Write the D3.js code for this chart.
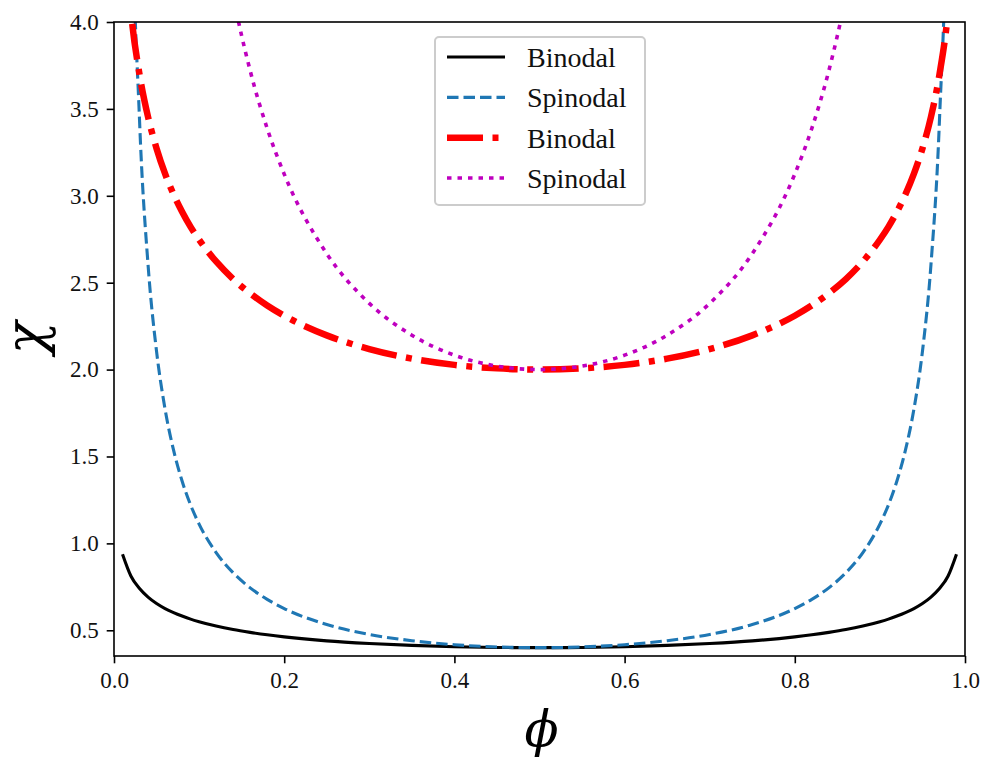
<!DOCTYPE html>
<html>
<head>
<meta charset="utf-8">
<script src="https://cdn.jsdelivr.net/npm/d3@7"></script>
<style>
  body { margin: 0; background: #fff; }
  svg { display: block; }
</style>
</head>
<body>
<div id="chart"></div>
<script>
// volume fraction grid
const phi = [0.01, 0.02, 0.03, 0.04, 0.05, 0.06, 0.07, 0.08, 0.09, 0.10,
    0.12, 0.14, 0.16, 0.18, 0.20, 0.25, 0.30, 0.35, 0.40, 0.45, 0.50,
    0.55, 0.60, 0.65, 0.70, 0.75, 0.80, 0.82, 0.84, 0.86, 0.88, 0.90,
    0.91, 0.92, 0.93, 0.94, 0.95, 0.96, 0.97, 0.98, 0.99];

// black solid
const binodalA = [0.938, 0.811, 0.740, 0.691, 0.654, 0.625, 0.602, 0.582, 0.564, 0.549,
    0.524, 0.504, 0.488, 0.474, 0.462, 0.439, 0.424, 0.413, 0.405, 0.401, 0.400,
    0.401, 0.405, 0.413, 0.424, 0.439, 0.462, 0.474, 0.488, 0.504, 0.524, 0.549,
    0.564, 0.582, 0.602, 0.625, 0.654, 0.691, 0.740, 0.811, 0.938];

// blue dashed
const spinodalA = [10.10, 5.102, 3.436, 2.604, 2.105, 1.773, 1.536, 1.359, 1.221, 1.111,
    0.947, 0.831, 0.744, 0.678, 0.625, 0.533, 0.476, 0.440, 0.417, 0.404, 0.400,
    0.404, 0.417, 0.440, 0.476, 0.533, 0.625, 0.678, 0.744, 0.831, 0.947, 1.111,
    1.221, 1.359, 1.536, 1.773, 2.105, 2.604, 3.436, 5.102, 10.10];

// red dash-dot
const binodalB = [4.689, 4.054, 3.698, 3.454, 3.272, 3.127, 3.008, 2.908, 2.821, 2.747,
    2.622, 2.521, 2.439, 2.369, 2.310, 2.197, 2.118, 2.063, 2.027, 2.007, 2.000,
    2.007, 2.027, 2.063, 2.118, 2.197, 2.310, 2.369, 2.439, 2.521, 2.622, 2.747,
    2.821, 2.908, 3.008, 3.127, 3.272, 3.454, 3.698, 4.054, 4.689];

// magenta dotted
const spinodalB = [50.5, 25.51, 17.18, 13.02, 10.53, 8.865, 7.680, 6.793, 6.105, 5.556,
    4.735, 4.153, 3.720, 3.388, 3.125, 2.667, 2.381, 2.198, 2.083, 2.020, 2.000,
    2.020, 2.083, 2.198, 2.381, 2.667, 3.125, 3.388, 3.720, 4.153, 4.735, 5.556,
    6.105, 6.793, 7.680, 8.865, 10.53, 13.02, 17.18, 25.51, 50.5];

const xTicks = [0.0, 0.2, 0.4, 0.6, 0.8, 1.0];
const yTicks = [0.5, 1.0, 1.5, 2.0, 2.5, 3.0, 3.5, 4.0];
const legendLabels = ['Binodal', 'Spinodal', 'Binodal', 'Spinodal'];

const width = 986, height = 764;
const margin = { top: 22, right: 21, bottom: 108, left: 114 };
const innerWidth = width - margin.left - margin.right;
const innerHeight = height - margin.top - margin.bottom;

const series = [
    { values: binodalA, color: '#000000', width: 3.1, dash: null },
    { values: spinodalA, color: '#1f77b4', width: 3.1, dash: '11.5,5' },
    { values: binodalB, color: '#ff0000', width: 6.5, dash: '36,9.5,6,9.5' },
    { values: spinodalB, color: '#bf00bf', width: 3.6, dash: '4.5,6' }
];

const svg = d3.select('#chart').append('svg')
    .attr('width', width)
    .attr('height', height);

const chart = svg.append('g')
    .attr('transform', `translate(${margin.left}, ${margin.top})`);

const xScale = d3.scaleLinear()
    .domain([0, 1])
    .range([0, innerWidth]);

const yScale = d3.scaleLinear()
    .domain([0.352, 4.0])
    .range([innerHeight, 0]);

chart.append('clipPath')
    .attr('id', 'plot-clip')
    .append('rect')
    .attr('width', innerWidth)
    .attr('height', innerHeight);

const line = d3.line()
    .x(d => xScale(d[0]))
    .y(d => yScale(d[1]))
    .curve(d3.curveMonotoneX);

const lines = chart.append('g').attr('clip-path', 'url(#plot-clip)');

series.forEach(s => {
    lines.append('path')
        .datum(phi.map((p, i) => [p, s.values[i]]))
        .attr('d', line)
        .attr('fill', 'none')
        .attr('stroke', s.color)
        .attr('stroke-width', s.width)
        .attr('stroke-dasharray', s.dash)
        .attr('stroke-linejoin', 'round');
});

// axes
const xAxis = d3.axisBottom(xScale)
    .tickValues(xTicks)
    .tickFormat(d3.format('.1f'))
    .tickSize(7.3)
    .tickPadding(8);

const yAxis = d3.axisLeft(yScale)
    .tickValues(yTicks)
    .tickFormat(d3.format('.1f'))
    .tickSize(7.3)
    .tickPadding(8);

const xG = chart.append('g')
    .attr('transform', `translate(0, ${innerHeight})`)
    .call(xAxis);

const yG = chart.append('g')
    .call(yAxis);

[xG, yG].forEach(g => {
    g.attr('font-size', 23).attr('font-family', '"Liberation Serif", serif');
    g.select('.domain').remove();
    g.selectAll('.tick line').attr('stroke', '#000').attr('stroke-width', 1.6);
    g.selectAll('.tick text').attr('fill', '#111');
});

// frame
chart.append('rect')
    .attr('width', innerWidth)
    .attr('height', innerHeight)
    .attr('fill', 'none')
    .attr('stroke', '#000')
    .attr('stroke-width', 1.6);

// axis labels
svg.append('text')
    .attr('x', margin.left + innerWidth / 2 + 2)
    .attr('y', 746)
    .attr('text-anchor', 'middle')
    .attr('font-family', '"DejaVu Serif", serif')
    .attr('font-style', 'italic')
    .attr('font-size', 50)
    .text('\u03D5');

svg.append('text')
    .attr('transform', 'translate(44, 338) rotate(-90)')
    .attr('text-anchor', 'middle')
    .attr('font-family', '"DejaVu Serif", serif')
    .attr('font-style', 'italic')
    .attr('font-size', 54)
    .text('\u03C7');

// legend
const legend = svg.append('g')
    .attr('transform', 'translate(435, 37)');

legend.append('rect')
    .attr('width', 210)
    .attr('height', 168)
    .attr('rx', 4)
    .attr('fill', '#fff')
    .attr('fill-opacity', 0.8)
    .attr('stroke', '#cccccc')
    .attr('stroke-width', 2);

const rowY = d3.scaleLinear().domain([0, 3]).range([20, 141]);

series.forEach((s, i) => {
    legend.append('line')
        .attr('x1', 12)
        .attr('x2', 70)
        .attr('y1', rowY(i))
        .attr('y2', rowY(i))
        .attr('stroke', s.color)
        .attr('stroke-width', s.width)
        .attr('stroke-dasharray', s.dash);

    legend.append('text')
        .attr('x', 92)
        .attr('y', rowY(i) + 10)
        .attr('font-family', '"Liberation Serif", serif')
        .attr('font-size', 28)
        .attr('fill', '#111')
        .text(legendLabels[i]);
});
</script>
</body>
</html>
